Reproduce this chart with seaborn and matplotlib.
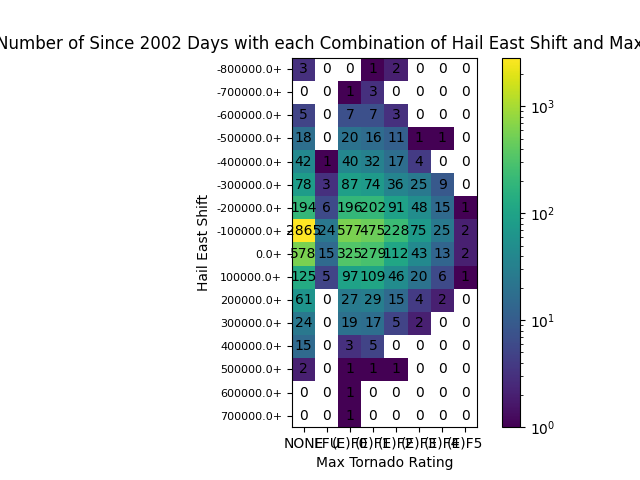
import numpy as np
import pandas as pd
import matplotlib
matplotlib.use("Agg")
import matplotlib.pyplot as plt
from matplotlib.colors import LogNorm
import seaborn as sns

x_labels = ["NONE", "EFU", "(E)F0", "(E)F1", "(E)F2", "(E)F3", "(E)F4", "(E)F5"]
y_labels = ["-800000.0+", "-700000.0+", "-600000.0+", "-500000.0+",
            "-400000.0+", "-300000.0+", "-200000.0+", "-100000.0+",
            "0.0+", "100000.0+", "200000.0+", "300000.0+",
            "400000.0+", "500000.0+", "600000.0+", "700000.0+"]
row_m800 = [3, 0, 0, 1, 2, 0, 0, 0]
row_m700 = [0, 0, 1, 3, 0, 0, 0, 0]
row_m600 = [5, 0, 7, 7, 3, 0, 0, 0]
row_m500 = [18, 0, 20, 16, 11, 1, 1, 0]
row_m400 = [42, 1, 40, 32, 17, 4, 0, 0]
row_m300 = [78, 3, 87, 74, 36, 25, 9, 0]
row_m200 = [194, 6, 196, 202, 91, 48, 15, 1]
row_m100 = [2865, 24, 577, 475, 228, 75, 25, 2]
row_0 = [578, 15, 325, 279, 112, 43, 13, 2]
row_100 = [125, 5, 97, 109, 46, 20, 6, 1]
row_200 = [61, 0, 27, 29, 15, 4, 2, 0]
row_300 = [24, 0, 19, 17, 5, 2, 0, 0]
row_400 = [15, 0, 3, 5, 0, 0, 0, 0]
row_500 = [2, 0, 1, 1, 1, 0, 0, 0]
row_600 = [0, 0, 1, 0, 0, 0, 0, 0]
row_700 = [0, 0, 1, 0, 0, 0, 0, 0]

rows = [row_m800, row_m700, row_m600, row_m500, row_m400, row_m300, row_m200, row_m100,
        row_0, row_100, row_200, row_300, row_400, row_500, row_600, row_700]
counts = pd.DataFrame(rows, index=y_labels, columns=x_labels)

fig, ax = plt.subplots(figsize=(6.4, 4.8), dpi=100)
sns.heatmap(counts, ax=ax, cmap="viridis", norm=LogNorm(vmin=1, vmax=counts.values.max()),
            square=True, annot=True, fmt="d", annot_kws={"color": "black", "fontsize": 10},
            cbar=True)
cbar = ax.collections[0].colorbar
cbar.outline.set_linewidth(0.8)
cbar.outline.set_visible(True)
for s in ax.spines.values():
    s.set_visible(True)
    s.set_linewidth(0.8)
ax.tick_params(axis="x", labelsize=10, labelrotation=0, length=3.5)
ax.tick_params(axis="y", labelsize=8, labelrotation=0, length=3.5)
for lab in ax.get_yticklabels():
    lab.set_va("center_baseline")
ax.set_xlabel("Max Tornado Rating", fontsize=10)
ax.set_ylabel("Hail East Shift", fontsize=10)
ax.set_title("Number of Since 2002 Days with each Combination of Hail East Shift and Max Tornado Rating", fontsize=12)
fig.savefig("out.png", dpi=100)
